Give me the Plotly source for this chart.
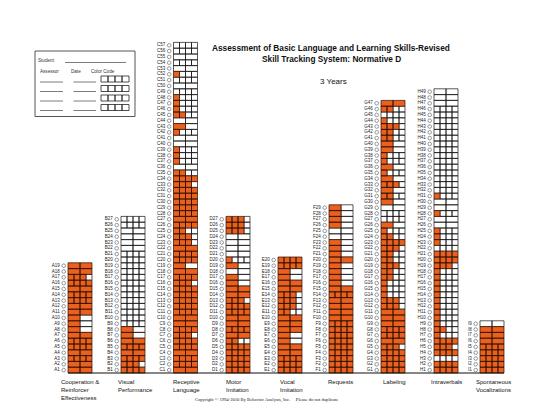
import plotly.graph_objects as go

# ---------------- data ----------------
domain_letters = ["A", "B", "C", "D", "E", "F", "G", "H", "I"]
domain_names = [
    "Cooperation &<br>Reinforcer<br>Effectiveness",
    "Visual<br>Performance",
    "Receptive<br>Language",
    "Motor<br>Imitation",
    "Vocal<br>Imitation",
    "Requests",
    "Labeling",
    "Intraverbals",
    "Spontaneous<br>Vocalizations",
]

# maximum score per item (number of sub-cells), item 1 first
A_max = [2, 2, 4, 2, 4, 4, 2, 2, 2, 2, 2, 2, 4, 4, 2, 4, 4, 2, 2]
A_score = [2, 2, 4, 2, 4, 4, 2, 1, 1, 1, 2, 2, 4, 4, 2, 4, 3, 2, 2]

B_max = [4, 4, 4, 2, 4, 2, 2, 2, 4, 4, 4, 4, 4, 4, 4, 4, 4, 4, 4, 4, 4, 2, 2, 2, 2, 4, 4]
B_score = [4, 3, 4, 2, 4, 2, 1, 1, 0, 0, 0, 0, 0, 0, 0, 0, 0, 0, 0, 0, 0, 0, 0, 0, 0, 0, 0]

C_max = [2, 4, 4, 2, 4, 4, 4, 4, 2, 2,
         4, 4, 4, 4, 4, 4, 4, 2, 2, 4,
         4, 2, 4, 4, 4, 4, 2, 4, 4, 4,
         4, 4, 4, 4, 4, 2, 4, 4, 4, 2,
         2, 4, 2, 2, 4, 4, 4, 4, 4, 2,
         4, 4, 2, 4, 2, 4, 4]
C_score = [2, 4, 4, 2, 4, 4, 3, 4, 2, 2,
           4, 4, 4, 4, 4, 3, 4, 2, 1, 4,
           4, 2, 3, 3, 2, 4, 2, 4, 4, 4,
           4, 4, 3, 4, 2, 0, 1, 1, 1, 0,
           0, 1, 1, 0, 2, 1, 1, 1, 0, 0,
           0, 1, 0, 0, 0, 0, 0]

D_max = [4, 4, 4, 4, 4, 4, 2, 4, 2, 2, 4, 4, 4, 2, 2, 2, 2, 2, 2, 4, 2, 2, 2, 2, 4, 4, 4]
D_score = [4, 4, 4, 4, 4, 2, 2, 4, 2, 2, 4, 4, 3, 2, 2, 1, 1, 0, 1, 1, 0, 0, 0, 0, 3, 3, 3]

E_max = [4, 4, 4, 2, 2, 2, 2, 2, 2, 2, 4, 4, 4, 4, 2, 2, 2, 2, 4, 4]
E_score = [4, 4, 4, 2, 2, 1, 1, 2, 2, 2, 2, 3, 3, 3, 2, 2, 1, 1, 4, 4]

F_max = [4, 4, 4, 4, 4, 4, 4, 4, 4, 2, 2, 2, 2, 4, 2, 2, 2, 2, 2, 2, 2, 2, 2, 2, 2, 2, 2, 2, 2]
F_score = [4, 4, 4, 4, 4, 4, 4, 4, 4, 2, 2, 2, 2, 4, 2, 1, 1, 1, 1, 2, 1, 1, 1, 0, 0, 1, 1, 1, 1]

G_max = [4, 4, 4, 4, 4, 2, 4, 4, 2, 2,
         2, 4, 4, 4, 4, 4, 4, 4, 4, 4,
         4, 4, 4, 4, 4, 2, 4, 4, 2, 2,
         4, 2, 4, 2, 4, 2, 4, 4, 2, 2,
         4, 4, 4, 4, 4, 4, 2]
G_score = [4, 4, 4, 4, 3, 2, 4, 4, 2, 2,
           2, 3, 3, 1, 1, 1, 2, 2, 3, 2,
           2, 3, 4, 2, 1, 1, 0, 0, 0, 1,
           2, 1, 3, 1, 1, 1, 1, 1, 1, 1,
           2, 2, 3, 1, 0, 2, 2]

H_max = [4, 4, 4, 4, 4, 4, 4, 4, 4, 4,
         4, 4, 4, 4, 4, 4, 4, 4, 4, 4,
         4, 4, 4, 4, 4, 2, 2, 4, 2, 2,
         4, 4, 4, 4, 4, 4, 4, 4, 4, 4,
         4, 4, 4, 4, 4, 4, 2, 2, 2]
H_score = [4, 4, 0, 4, 3, 4, 1, 2, 1, 1,
           1, 1, 1, 1, 1, 1, 1, 1, 3, 4,
           4, 0, 1, 1, 1, 0, 0, 1, 0, 0,
           1, 0, 0, 0, 0, 0, 0, 0, 0, 0,
           0, 0, 0, 0, 0, 0, 0, 0, 0]

I_max = [4, 4, 4, 4, 4, 2, 2, 2, 2]
I_score = [4, 4, 4, 4, 4, 2, 2, 2, 0]

max_lists = [A_max, B_max, C_max, D_max, E_max, F_max, G_max, H_max, I_max]
score_lists = [A_score, B_score, C_score, D_score, E_score, F_score, G_score, H_score, I_score]

# ---------------- layout constants ----------------
FIG_W, FIG_H = 538, 420
BASE_PX = 365.0      # pixel row of the grid baseline
ROW_PX = 5.8         # pixel height of one item row
col_left = [60, 113, 165.5, 218, 270, 321, 373, 426, 472]
col_width = 24
label_left = [51, 108, 163, 216, 269.5, 318, 373, 420.5, 465.5]
ORANGE = "#E9601F"
FONT = "Arial, Liberation Sans, sans-serif"


def py(p):
    """pixel row -> y data units (rows)"""
    return (BASE_PX - p) / ROW_PX


fill_x, fill_y, empty_x, empty_y = [], [], [], []
lab_x, lab_y, lab_t = [], [], []
circ_x, circ_y = [], []
for d, letter in enumerate(domain_letters):
    left = col_left[d]
    for i, (m, s) in enumerate(zip(max_lists[d], score_lists[d])):
        n = i + 1
        y0, y1 = n - 1, n
        for k in range(m):
            x0 = left + k * col_width / m
            x1 = left + (k + 1) * col_width / m
            xs = [x0, x1, x1, x0, x0, None]
            ys = [y0, y0, y1, y1, y0, None]
            if k < s:
                fill_x += xs
                fill_y += ys
            else:
                empty_x += xs
                empty_y += ys
        lab_x.append(left - 8.3)
        lab_y.append(n - 0.5)
        lab_t.append(f"{letter}{n}")
        circ_x.append(left - 4.3)
        circ_y.append(n - 0.5)

fig = go.Figure()
fig.add_trace(go.Scatter(x=empty_x, y=empty_y, mode="lines", fill="toself",
                         fillcolor="white", line=dict(color="#111", width=0.7),
                         hoverinfo="skip", showlegend=False))
fig.add_trace(go.Scatter(x=fill_x, y=fill_y, mode="lines", fill="toself",
                         fillcolor=ORANGE, line=dict(color="#2a0f00", width=0.7),
                         hoverinfo="skip", showlegend=False))
fig.add_trace(go.Scatter(x=[col_left[0], col_left[-1] + col_width], y=[0, 0],
                         mode="lines", line=dict(color="#111", width=1.2),
                         hoverinfo="skip", showlegend=False))
fig.add_trace(go.Scatter(x=lab_x, y=lab_y, text=lab_t, mode="text",
                         textposition="middle left",
                         textfont=dict(size=4.5, family=FONT, color="#222"),
                         hoverinfo="skip", showlegend=False))
fig.add_trace(go.Scatter(x=circ_x, y=circ_y, mode="markers",
                         marker=dict(symbol="circle-open", size=3.6,
                                     color="#555", line=dict(width=0.6)),
                         hoverinfo="skip", showlegend=False))

ann = []
for d, name in enumerate(domain_names):
    ann.append(dict(x=label_left[d], y=py(368.5), xref="x", yref="y", text=name,
                    showarrow=False, xanchor="left", yanchor="top", align="left",
                    font=dict(size=6, family=FONT, color="#111")))

ann.append(dict(x=323, y=py(40), xref="x", yref="y",
                text="<b>Assessment of Basic Language and Learning Skills-Revised</b>",
                showarrow=False, xanchor="center", yanchor="middle",
                font=dict(size=8.3, family=FONT, color="#111")))
ann.append(dict(x=323, y=py(51), xref="x", yref="y",
                text="<b>Skill Tracking System: Normative D</b>",
                showarrow=False, xanchor="center", yanchor="middle",
                font=dict(size=8.3, family=FONT, color="#111")))
ann.append(dict(x=325, y=py(73), xref="x", yref="y", text="3 Years",
                showarrow=False, xanchor="center", yanchor="middle",
                font=dict(size=8, family=FONT, color="#111")))
ann.append(dict(x=258, y=py(391.5), xref="x", yref="y",
                text="Copyright © 1994-2010 By Behavior Analysts, Inc.&nbsp;&nbsp;&nbsp;&nbsp;&nbsp;Please do not duplicate",
                showarrow=False, xanchor="center", yanchor="middle",
                font=dict(size=4.6, family="Liberation Serif, Times New Roman, serif", color="#222")))

# student form box
form_font = dict(size=4.6, family=FONT, color="#333")
ann.append(dict(x=28, y=py(52.8), xref="x", yref="y", text="Student:", showarrow=False,
                xanchor="left", yanchor="middle", font=form_font))
for tx, t in [(30, "Assessor"), (61, "Date"), (81, "Color Code")]:
    ann.append(dict(x=tx, y=py(63.3), xref="x", yref="y", text=t, showarrow=False,
                    xanchor="left", yanchor="middle", font=form_font))

shapes = []
shapes.append(dict(type="rect", xref="x", yref="y", x0=27, x1=127, y0=py(43), y1=py(108.5),
                   line=dict(color="#555", width=1)))
shapes.append(dict(type="line", xref="x", yref="y", x0=57, x1=118, y0=py(54.5), y1=py(54.5),
                   line=dict(color="#444", width=0.7)))
form_rows = [(68, 74), (77.5, 83.5), (87, 93), (96.5, 102.5)]
for top, bot in form_rows:
    shapes.append(dict(type="line", xref="x", yref="y", x0=32, x1=55, y0=py(bot), y1=py(bot),
                       line=dict(color="#444", width=0.7)))
    shapes.append(dict(type="line", xref="x", yref="y", x0=65.5, x1=88, y0=py(bot), y1=py(bot),
                       line=dict(color="#444", width=0.7)))
    for k in range(4):
        shapes.append(dict(type="rect", xref="x", yref="y", x0=93 + k * 7, x1=100 + k * 7,
                           y0=py(bot), y1=py(top), line=dict(color="#222", width=0.8)))

fig.update_layout(
    width=FIG_W, height=FIG_H, autosize=False,
    margin=dict(l=0, r=0, t=0, b=0),
    paper_bgcolor="white", plot_bgcolor="white",
    xaxis=dict(range=[0, FIG_W], visible=False, fixedrange=True),
    yaxis=dict(range=[py(FIG_H), py(0)], visible=False, fixedrange=True),
    annotations=ann, shapes=shapes, showlegend=False,
)
fig.write_html("out.html")
